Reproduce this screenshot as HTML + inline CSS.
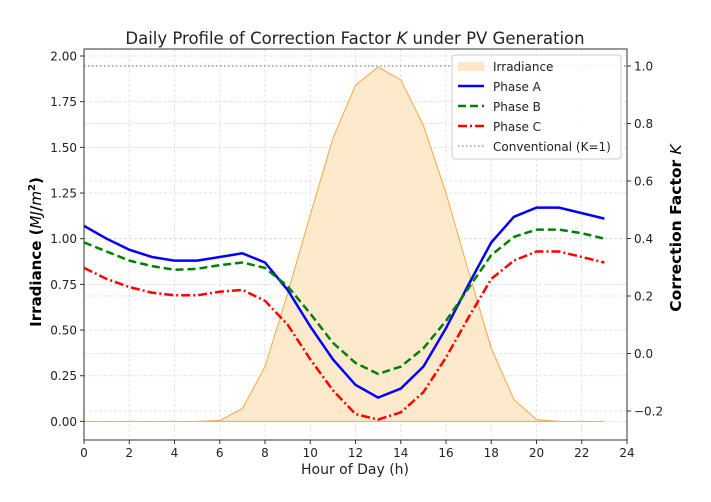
<!DOCTYPE html>
<html><head><meta charset="utf-8"><style>
body{margin:0;background:#fff}
svg{display:block;font-family:"DejaVu Sans","Liberation Sans",sans-serif}
</style></head><body>
<svg id="s" width="711" height="502" viewBox="0 0 711 502" xmlns="http://www.w3.org/2000/svg">
<rect width="711" height="502" fill="#fff"/>
<g id="grid" stroke="#dcdcdc" stroke-width="0.8" stroke-dasharray="3,2"></g>
<path id="irr" fill="#fde8c6" fill-opacity="0.9" stroke="#f5a742" stroke-width="1"/>
<line x1="84" x2="627" y1="66" y2="66" stroke="#888" stroke-width="1.3" stroke-dasharray="1.5,2.5"/>
<polyline id="pa" fill="none" stroke="#0000ff" stroke-width="2.5"/>
<polyline id="pb" fill="none" stroke="#008000" stroke-width="2.5" stroke-dasharray="8,4"/>
<polyline id="pc" fill="none" stroke="#ff0000" stroke-width="2.5" stroke-dasharray="9,3,2,3"/>
<rect x="84" y="49" width="543" height="391" fill="none" stroke="#333" stroke-width="1"/>
<g id="ticks" font-size="12" fill="#222"></g>
<text x="355" y="44" font-size="16.5" text-anchor="middle" fill="#222">Daily Profile of Correction Factor <tspan font-style="italic">K</tspan> under PV Generation</text>
<text x="355" y="474" font-size="14" text-anchor="middle" fill="#222">Hour of Day (h)</text>
<text transform="translate(41,252) rotate(-90)" font-size="15" font-weight="bold" text-anchor="middle" fill="#000">Irradiance (<tspan font-style="italic" font-weight="normal">MJ</tspan>/<tspan font-style="italic" font-weight="normal">m</tspan><tspan font-size="10" dy="-6">2</tspan><tspan dy="6">)</tspan></text>
<text transform="translate(681,228) rotate(-90)" font-size="15.5" font-weight="bold" text-anchor="middle" fill="#000">Correction Factor <tspan font-style="italic" font-weight="normal">K</tspan></text>
<g>
<rect x="452" y="55" width="169" height="104" rx="3" fill="#fff" fill-opacity="0.85" stroke="#ccc"/>
<rect x="458" y="62" width="26" height="9" fill="#fde8c6"/>
<line x1="458" x2="484" y1="86" y2="86" stroke="#0000ff" stroke-width="2.5"/>
<line x1="458" x2="484" y1="106" y2="106" stroke="#008000" stroke-width="2.5" stroke-dasharray="8,4"/>
<line x1="458" x2="484" y1="126" y2="126" stroke="#ff0000" stroke-width="2.5" stroke-dasharray="9,3,2,3"/>
<line x1="458" x2="484" y1="146" y2="146" stroke="#888" stroke-width="1.3" stroke-dasharray="1.5,2.5"/>
<g font-size="12" fill="#222">
<text x="493" y="71">Irradiance</text>
<text x="493" y="91">Phase A</text>
<text x="493" y="111">Phase B</text>
<text x="493" y="131">Phase C</text>
<text x="493" y="151">Conventional (K=1)</text>
</g></g>
</svg>
<script>
var NS="http://www.w3.org/2000/svg";
function X(h){return 84+h*22.625}
function Y(v){return 421.4-v*182.7}
function YR(k){return 353.5-k*287.5}
var irr=[0,0,0,0,0,0,0.005,0.07,0.30,0.70,1.13,1.55,1.84,1.94,1.87,1.62,1.25,0.82,0.40,0.12,0.01,0,0,0];
var A=[1.07,1.00,0.94,0.90,0.88,0.88,0.90,0.92,0.87,0.72,0.52,0.34,0.20,0.13,0.18,0.30,0.51,0.75,0.98,1.12,1.17,1.17,1.14,1.11];
var B=[0.98,0.93,0.88,0.85,0.83,0.835,0.855,0.87,0.84,0.74,0.59,0.43,0.32,0.26,0.30,0.40,0.55,0.73,0.91,1.01,1.05,1.05,1.03,1.00];
var C=[0.84,0.78,0.735,0.705,0.69,0.69,0.71,0.72,0.66,0.53,0.34,0.17,0.04,0.01,0.05,0.16,0.35,0.57,0.78,0.88,0.93,0.93,0.90,0.87];
function pts(a){return a.map(function(v,i){return X(i).toFixed(1)+","+Y(v).toFixed(1)}).join(" ")}
document.getElementById("pa").setAttribute("points",pts(A));
document.getElementById("pb").setAttribute("points",pts(B));
document.getElementById("pc").setAttribute("points",pts(C));
var d="M"+X(0)+","+Y(0);irr.forEach(function(v,i){d+=" L"+X(i).toFixed(1)+","+Y(v).toFixed(1)});d+=" L"+X(23)+","+Y(0)+"Z";
document.getElementById("irr").setAttribute("d",d);
var g=document.getElementById("grid"),t=document.getElementById("ticks");
function el(p,n,a,txt){var e=document.createElementNS(NS,n);for(var k in a)e.setAttribute(k,a[k]);if(txt)e.textContent=txt;p.appendChild(e);}
for(var h=0;h<=24;h+=2){var x=X(h);if(h>0&&h<24)el(g,"line",{x1:x,x2:x,y1:49,y2:440});el(t,"line",{x1:x,x2:x,y1:440,y2:444,stroke:"#333"});el(t,"text",{x:x,y:457,"text-anchor":"middle"},""+h);}
for(var i=0;i<=8;i++){var v=i*0.25,y=Y(v);el(g,"line",{x1:84,x2:627,y1:y,y2:y});el(t,"line",{x1:80,x2:84,y1:y,y2:y,stroke:"#333"});el(t,"text",{x:77,y:y+4.5,"text-anchor":"end"},v.toFixed(2));}
[-0.2,0,0.2,0.4,0.6,0.8,1.0].forEach(function(k){var y=YR(k);el(g,"line",{x1:84,x2:627,y1:y,y2:y});el(t,"line",{x1:627,x2:631,y1:y,y2:y,stroke:"#333"});el(t,"text",{x:634,y:y+4.5},(k<0?"\u2212":"")+Math.abs(k).toFixed(1));});
</script>
</body></html>
